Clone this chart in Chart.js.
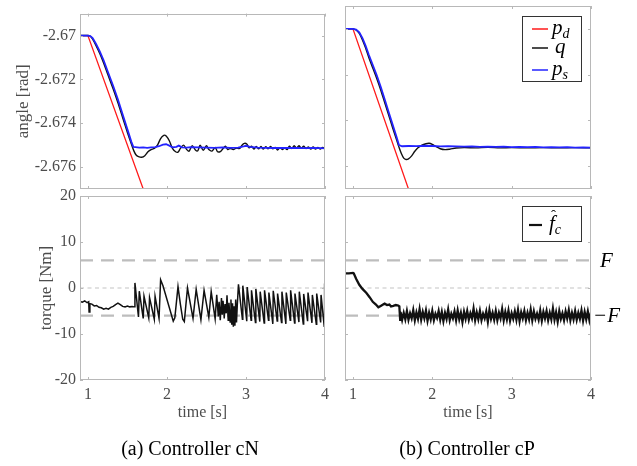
<!DOCTYPE html>
<html><head><meta charset="utf-8">
<script src="https://cdn.jsdelivr.net/npm/chart.js@4.4.0/dist/chart.umd.min.js"></script>
<style>
html,body{margin:0;padding:0;background:#fff;}
#wrap{position:relative;width:637px;height:466px;overflow:hidden;background:#fff;}
canvas{position:absolute;left:0;top:0;}
.cap{position:absolute;font-family:"Liberation Serif","DejaVu Serif",serif;font-size:20px;line-height:20px;color:#000;white-space:nowrap;transform:translateX(-50%);}
</style></head><body>
<div id="wrap">
<canvas id="tl" width="637" height="466"></canvas>
<canvas id="tr" width="637" height="466"></canvas>
<canvas id="bl" width="637" height="466"></canvas>
<canvas id="br" width="637" height="466"></canvas>
<div class="cap" style="left:190px;top:438px">(a) Controller cN</div>
<div class="cap" style="left:467px;top:438px">(b) Controller cP</div>
</div>
<script>
// ---------- ticks ----------
const xTicks = [1, 2, 3, 4];
const angleTicks = [-2.67, -2.672, -2.674, -2.676];
const torqueTicks = [-20, -10, 0, 10, 20];
const F = 6;
const refT = [0.9, 4.0];

// ---------- desired position p_d (both controllers) ----------
const tD = [0.9, 1.0, 1.75];
const pD = [-2.67, -2.67, -2.6775];

// ---------- controller cN : q and p_s ----------
const tQN = [0.90,1.00,1.03,1.06,1.10,1.15,1.20,1.25,1.32,1.38,1.44,1.50,1.55,1.58,1.61,1.64,1.68,1.72,1.76,1.80,1.84,1.88,1.92,1.96,1.99,2.03,2.07,2.11,2.14,2.17,2.21,2.25,2.28,2.32,2.36,2.39,2.42,2.46,2.50,2.53,2.57,2.61,2.64,2.68,2.71,2.74,2.77,2.80,2.84,2.88,2.92,2.95,2.98,3.01,3.04,3.07,3.10,3.13,3.16,3.19,3.22,3.25,3.28,3.31,3.34,3.37,3.40,3.43,3.46,3.49,3.52,3.55,3.58,3.61,3.64,3.67,3.70,3.73,3.76,3.79,3.82,3.85,3.88,3.91,3.94,3.97,4.00];
const qN = [-2.67,-2.67,-2.67003,-2.67017,-2.67044,-2.67082,-2.67126,-2.67176,-2.67244,-2.67307,-2.67375,-2.67442,-2.67495,-2.67525,-2.67545,-2.67552,-2.67555,-2.67548,-2.6753,-2.6752,-2.67515,-2.675,-2.6747,-2.67455,-2.67458,-2.6748,-2.67515,-2.6753,-2.67532,-2.67515,-2.675,-2.6752,-2.67528,-2.67502,-2.67522,-2.67526,-2.675,-2.67524,-2.67502,-2.6752,-2.67527,-2.6751,-2.6753,-2.67528,-2.67515,-2.67505,-2.6752,-2.67515,-2.6752,-2.67513,-2.67515,-2.675,-2.67492,-2.67495,-2.67512,-2.67505,-2.67518,-2.67506,-2.67517,-2.67506,-2.67518,-2.67507,-2.67517,-2.67506,-2.67517,-2.6751,-2.67522,-2.67512,-2.6752,-2.67513,-2.6752,-2.67505,-2.67515,-2.67503,-2.67514,-2.67503,-2.67514,-2.67505,-2.67515,-2.67508,-2.67518,-2.67508,-2.67518,-2.6751,-2.67518,-2.6751,-2.67515];
const tSN = [0.90,1.00,1.03,1.06,1.10,1.15,1.20,1.25,1.32,1.38,1.44,1.50,1.55,1.575,1.60,1.65,1.70,1.75,1.80,1.85,1.90,1.95,1.99,2.03,2.07,2.12,2.15,2.19,2.25,2.30,2.40,2.50,2.60,2.70,2.80,2.90,2.97,3.00,3.05,3.15,3.25,3.35,3.45,3.55,3.65,3.75,3.85,3.95,4.00];
const sN = [-2.67,-2.67,-2.67002,-2.67012,-2.67036,-2.67072,-2.67114,-2.67163,-2.6723,-2.67292,-2.6736,-2.67428,-2.67485,-2.67508,-2.67509,-2.67511,-2.6751,-2.67512,-2.6751,-2.67509,-2.67505,-2.67498,-2.67496,-2.67502,-2.6751,-2.67508,-2.67502,-2.6751,-2.67511,-2.67509,-2.6751,-2.67511,-2.67512,-2.6751,-2.67512,-2.67511,-2.67506,-2.67503,-2.67508,-2.67511,-2.67512,-2.67513,-2.67512,-2.67513,-2.67512,-2.67514,-2.67513,-2.67514,-2.67515];

// ---------- controller cP : q and p_s ----------
const tQP = [0.90,1.00,1.04,1.08,1.12,1.16,1.20,1.25,1.30,1.35,1.40,1.45,1.50,1.55,1.58,1.61,1.64,1.67,1.70,1.74,1.78,1.82,1.87,1.92,1.96,2.00,2.05,2.10,2.16,2.22,2.30,2.40,2.55,2.70,2.85,3.00,3.20,3.40,3.60,3.80,4.00];
const qP = [-2.67,-2.67,-2.67005,-2.6702,-2.67048,-2.67084,-2.67125,-2.67171,-2.67217,-2.67267,-2.67322,-2.67377,-2.67432,-2.67485,-2.67517,-2.67545,-2.67565,-2.67571,-2.67568,-2.67555,-2.67535,-2.6752,-2.67508,-2.67502,-2.675,-2.67505,-2.67515,-2.67524,-2.67528,-2.67526,-2.67521,-2.67519,-2.6752,-2.67518,-2.6752,-2.67519,-2.6752,-2.67519,-2.6752,-2.67519,-2.6752];
const tSP = [0.90,1.00,1.04,1.08,1.12,1.16,1.20,1.25,1.30,1.35,1.40,1.45,1.50,1.55,1.58,1.62,1.70,1.80,1.90,2.00,2.10,2.20,2.30,2.40,2.50,2.60,2.70,2.80,2.90,3.00,3.10,3.20,3.30,3.40,3.50,3.60,3.70,3.80,3.90,4.00];
const sP = [-2.67,-2.67,-2.67003,-2.67015,-2.6704,-2.67074,-2.67113,-2.67158,-2.67203,-2.67253,-2.67308,-2.67363,-2.67418,-2.67473,-2.67508,-2.67513,-2.67512,-2.67513,-2.67511,-2.67512,-2.67514,-2.67513,-2.67514,-2.67515,-2.67514,-2.67516,-2.67515,-2.67516,-2.67515,-2.67517,-2.67516,-2.67517,-2.67516,-2.67518,-2.67517,-2.67518,-2.67517,-2.67519,-2.67518,-2.67519];

// ---------- controller cN : estimated friction torque ----------
const tFN = [0.90,0.93,0.96,0.99,1.01,1.015,1.025,1.05,1.08,1.11,1.14,1.17,1.20,1.23,1.26,1.29,1.32,1.35,1.38,1.41,1.44,1.47,1.50,1.53,1.56,1.585,
 1.595,1.64,1.65,1.70,1.71,1.77,1.78,1.84,1.85,1.90,1.92,1.95,2.08,2.10,2.14,2.17,2.20,2.22,2.26,2.33,2.37,2.43,2.47,2.53,2.56,2.61,2.63,2.65,2.66,2.675,2.69,2.70,2.71,2.725,2.735,2.75,2.76,2.775,2.785,2.80,2.81,2.82,2.83,2.84,2.85,2.86,2.87,2.88,2.89,
 2.905,2.955,2.96,3.01,3.015,3.065,3.07,3.12,3.125,3.175,3.18,3.23,3.235,3.285,3.29,3.34,3.345,3.395,3.40,3.45,3.455,3.505,3.51,3.56,3.565,3.615,3.62,3.67,3.675,3.725,3.73,3.78,3.785,3.835,3.84,3.89,3.895,3.945,3.95,3.99,3.995];
const fN = [-2.9,-3.1,-2.8,-3.2,-3.0,-5.2,-3.4,-3.5,-3.9,-3.8,-4.2,-4.3,-4.6,-4.4,-4.6,-4.2,-4.0,-3.6,-3.3,-3.6,-4.0,-4.1,-3.9,-4.1,-4.0,-4.1,
 1.1,-6.3,-0.7,-6.6,-1.8,-6.5,-2.1,-6.8,-1.8,-6.6,1.8,0.5,-7.2,-6.5,0.3,-3.5,-6.8,-7.3,0.0,-6.6,-0.3,-6.9,-0.5,-6.4,-0.8,-6.7,-1.5,-6.2,-3.0,-7.0,-2.2,-5.8,-2.8,-6.6,-3.5,-5.5,-1.6,-7.0,-3.2,-7.4,-2.5,-8.0,-3.3,-8.4,-4.0,-8.2,-2.5,-7.5,-3.8,
 0.8,-6.8,0.5,-7.2,0.2,-7.0,-0.5,-7.5,-0.2,-7.3,-0.8,-7.6,-0.5,-7.0,-1.0,-7.8,-0.6,-7.2,-1.2,-7.5,-0.8,-7.8,-1.0,-7.0,-0.5,-7.6,-1.2,-7.4,-0.8,-7.8,-1.3,-7.2,-1.0,-7.6,-1.5,-7.9,-1.2,-7.5,-1.5,-8.3,1.0];

// ---------- controller cP : estimated friction torque ----------
const tFP = [0.90,0.95,1.00,1.01,1.04,1.08,1.12,1.17,1.21,1.25,1.29,1.32,1.35,1.38,1.40,1.43,1.46,1.48,1.51,1.54,1.57,1.585,1.595,
 1.60,1.62,1.64,1.66,1.68,1.70,1.72,1.74,1.76,1.78,
 1.80,1.82,1.84,1.86,1.88,1.90,1.92,1.94,1.96,1.98,
 2.00,2.02,2.04,2.06,2.08,2.10,2.12,2.14,2.16,2.18,
 2.20,2.22,2.24,2.26,2.28,2.30,2.32,2.34,2.36,2.38,
 2.40,2.42,2.44,2.46,2.48,2.50,2.52,2.54,2.56,2.58,
 2.60,2.62,2.64,2.66,2.68,2.70,2.72,2.74,2.76,2.78,
 2.80,2.82,2.84,2.86,2.88,2.90,2.92,2.94,2.96,2.98,
 3.00,3.02,3.04,3.06,3.08,3.10,3.12,3.14,3.16,3.18,
 3.20,3.22,3.24,3.26,3.28,3.30,3.32,3.34,3.36,3.38,
 3.40,3.42,3.44,3.46,3.48,3.50,3.52,3.54,3.56,3.58,
 3.60,3.62,3.64,3.66,3.68,3.70,3.72,3.74,3.76,3.78,
 3.80,3.82,3.84,3.86,3.88,3.90,3.92,3.94,3.96,3.98,
 4.00];
const fP = [3.2,3.2,3.3,3.2,2.0,0.7,-0.2,-1.1,-2.0,-3.0,-3.6,-4.2,-3.9,-3.6,-3.4,-3.7,-3.6,-4.0,-3.9,-3.7,-3.8,-4.0,-6.9,
 -5.2,-6.9,-5.4,-6.8,-5.0,-6.9,-5.5,-6.6,-4.8,-7.0,
 -5.3,-6.7,-4.6,-6.9,-5.2,-6.6,-4.9,-7.1,-5.4,-6.8,
 -5.0,-7.0,-5.6,-6.5,-5.0,-6.9,-5.2,-7.2,-5.4,-6.7,
 -4.7,-7.0,-5.6,-6.6,-5.1,-7.0,-4.9,-6.8,-5.4,-7.4,
 -5.2,-6.7,-5.0,-6.9,-5.5,-6.6,-4.5,-7.0,-5.3,-6.8,
 -5.0,-7.0,-5.6,-6.6,-5.1,-7.3,-4.8,-6.7,-5.4,-6.9,
 -5.0,-7.0,-5.4,-6.6,-4.6,-7.0,-5.2,-6.8,-4.9,-7.1,
 -5.5,-6.7,-5.1,-6.9,-4.8,-7.2,-5.3,-6.6,-5.0,-7.0,
 -5.4,-6.8,-4.7,-7.0,-5.1,-6.7,-5.6,-6.9,-4.9,-7.1,
 -5.2,-6.6,-5.0,-7.0,-5.4,-6.8,-4.5,-6.9,-5.3,-7.3,
 -5.0,-6.7,-5.5,-7.0,-5.1,-6.6,-4.8,-7.0,-5.4,-6.8,
 -5.0,-6.9,-5.4,-6.7,-4.9,-7.1,-5.2,-6.8,-5.1,-7.0,
 -5.3];

// ---------- helpers ----------
const SERIF = '"Liberation Serif","DejaVu Serif",serif';
const TXT = '#4d4d4d';
const FRAME = '#b8b8b8';
const pts = (xs, ys) => xs.map((x, i) => ({x, y: ys[i]}));
const line = (label, xs, ys, color, width, extra) => Object.assign({
  label, data: pts(xs, ys), borderColor: color, borderWidth: width,
  pointRadius: 0, fill: false, tension: 0, clip: 0
}, extra || {});

const deco = {
  id: 'deco',
  afterDraw(chart, args, o) {
    const ctx = chart.ctx, a = chart.chartArea, xs = chart.scales.x, ys = chart.scales.y;
    ctx.save();
    ctx.strokeStyle = FRAME; ctx.lineWidth = 1;
    ctx.beginPath();
    xTicks.forEach(v => {
      const px = Math.round(xs.getPixelForValue(v)) + 0.5;
      ctx.moveTo(px, a.top); ctx.lineTo(px, a.top + 3);
      ctx.moveTo(px, a.bottom); ctx.lineTo(px, a.bottom - 3);
    });
    o.yTicks.forEach(v => {
      const py = Math.round(ys.getPixelForValue(v)) + 0.5;
      ctx.moveTo(a.left, py); ctx.lineTo(a.left + 3, py);
      ctx.moveTo(a.right, py); ctx.lineTo(a.right - 3, py);
    });
    ctx.stroke();
    ctx.strokeRect(Math.round(a.left) + 0.5, Math.round(a.top) + 0.5, Math.round(a.right - a.left) - 1, Math.round(a.bottom - a.top) - 1);

    // legend
    if (o.legend) {
      const L = o.legend;
      const bx = a.right - 9 - L.w, by = a.top + 10;
      ctx.fillStyle = '#fff';
      ctx.fillRect(bx, by, L.w, L.h);
      ctx.strokeStyle = '#333'; ctx.lineWidth = 1;
      ctx.strokeRect(bx + 0.5, by + 0.5, L.w - 1, L.h - 1);
      L.items.forEach(it => {
        const y = by + it.dy;
        ctx.strokeStyle = it.color; ctx.lineWidth = it.lw;
        ctx.beginPath(); ctx.moveTo(bx + it.x0, y); ctx.lineTo(bx + it.x1, y); ctx.stroke();
        ctx.fillStyle = '#000';
        ctx.textBaseline = 'alphabetic'; ctx.textAlign = 'left';
        ctx.font = 'italic 21px ' + SERIF;
        const tx = bx + it.tx;
        ctx.fillText(it.main, tx, y + 5);
        const mw = ctx.measureText(it.main).width;
        if (it.hat) { ctx.font = '15px ' + SERIF; ctx.fillText('\u02C6', tx + 2, y - 5); }
        if (it.sub) { ctx.font = 'italic 14px ' + SERIF; ctx.fillText(it.sub, tx + mw, y + 9); }
      });
    }
    // F labels
    if (o.fLabels) {
      ctx.fillStyle = '#000'; ctx.font = 'italic 21px ' + SERIF;
      ctx.textBaseline = 'middle'; ctx.textAlign = 'left';
      ctx.fillText('F', a.right + 9, ys.getPixelForValue(F) + 1);
      ctx.fillText('\u2212F', a.right + 2, ys.getPixelForValue(-F) + 1);
    }
    ctx.restore();
  }
};

function makeChart(id, cfg) {
  const xScale = {
    type: 'linear', min: 0.9, max: 4, display: cfg.xLabels,
    afterBuildTicks: s => { s.ticks = xTicks.map(v => ({value: v})); },
    afterFit: s => { s.height = cfg.xLabels ? 48 : 0; },
    grid: {display: false, drawTicks: false}, border: {display: false},
    ticks: {color: TXT, font: {family: SERIF, size: 16}, padding: 5, maxRotation: 0, callback: v => String(v)},
    title: {display: true, text: 'time [s]', color: TXT, font: {family: SERIF, size: 16}, padding: {top: 0, bottom: 6}}
  };
  const yScale = {
    type: 'linear', min: cfg.yMin, max: cfg.yMax, display: cfg.yLabels,
    afterBuildTicks: s => { s.ticks = cfg.yTicks.map(v => ({value: v})); },
    afterFit: s => { s.width = cfg.yLabels ? 80 : 0; },
    grid: {display: false, drawTicks: false}, border: {display: false},
    ticks: {color: TXT, font: {family: SERIF, size: 16}, padding: 4, callback: v => String(v)},
    title: {display: true, text: cfg.yTitle || '', color: TXT, font: {family: SERIF, size: 17}, padding: {top: cfg.yTitlePad || 0, bottom: 0}}
  };
  return new Chart(document.getElementById(id), {
    type: 'line',
    data: {datasets: cfg.datasets},
    options: {
      responsive: false, animation: false, events: [],
      layout: {padding: cfg.pad},
      scales: {x: xScale, y: yScale},
      plugins: {legend: {display: false}, tooltip: {enabled: false}, deco: cfg.deco}
    },
    plugins: [deco]
  });
}

const RED = '#ff1a1a', BLUE = '#2323ff', BLK = '#111';
const angleLegend = {w: 60, h: 66, items: [
  {color: RED, lw: 1.5, dy: 13, x0: 10, x1: 26, tx: 30, main: 'p', sub: 'd'},
  {color: BLK, lw: 1.5, dy: 32, x0: 10, x1: 26, tx: 33, main: 'q'},
  {color: BLUE, lw: 1.5, dy: 54, x0: 10, x1: 26, tx: 30, main: 'p', sub: 's'}
]};
const torqueLegend = {w: 60, h: 36, items: [
  {color: BLK, lw: 2.2, dy: 19, x0: 7, x1: 20, tx: 27, main: 'f', sub: 'c', hat: true}
]};

const refSets = () => [
  line('F', refT, [F, F], '#bdbdbd', 2.2, {borderDash: [13, 8], order: 5}),
  line('-F', refT, [-F, -F], '#bdbdbd', 2.2, {borderDash: [13, 8], order: 5}),
  line('zero', refT, [0, 0], '#c4c4c4', 1.2, {borderDash: [4, 3.5], order: 6})
];

makeChart('tl', {
  pad: {left: 0, right: 312, top: 6, bottom: 277}, xLabels: false, yLabels: true,
  yMin: -2.677, yMax: -2.669, yTicks: angleTicks, yTitle: 'angle [rad]', yTitlePad: 13,
  deco: {yTicks: angleTicks},
  datasets: [
    line('p_s', tSN, sN, BLUE, 1.8, {order: 1}),
    line('q', tQN, qN, BLK, 1.4, {order: 2, tension: 0.3}),
    line('p_d', tD, pD, RED, 1.3, {order: 3})
  ]
});
makeChart('tr', {
  pad: {left: 345, right: 46, top: 6, bottom: 277}, xLabels: false, yLabels: false,
  yMin: -2.677, yMax: -2.669, yTicks: angleTicks,
  deco: {yTicks: angleTicks, legend: angleLegend},
  datasets: [
    line('p_s', tSP, sP, BLUE, 1.8, {order: 1}),
    line('q', tQP, qP, BLK, 1.4, {order: 2, tension: 0.3}),
    line('p_d', tD, pD, RED, 1.3, {order: 3})
  ]
});
makeChart('bl', {
  pad: {left: 0, right: 312, top: 196, bottom: 38}, xLabels: true, yLabels: true,
  yMin: -20, yMax: 20, yTicks: torqueTicks, yTitle: 'torque [Nm]', yTitlePad: 36,
  deco: {yTicks: torqueTicks},
  datasets: refSets().concat([line('f_c', tFN, fN, BLK, 1.5, {order: 1})])
});
makeChart('br', {
  pad: {left: 345, right: 46, top: 196, bottom: 38}, xLabels: true, yLabels: false,
  yMin: -20, yMax: 20, yTicks: torqueTicks,
  deco: {yTicks: torqueTicks, legend: torqueLegend, fLabels: true},
  datasets: refSets().concat([line('f_c', tFP, fP, BLK, 2.3, {order: 1})])
});
</script>
</body></html>
